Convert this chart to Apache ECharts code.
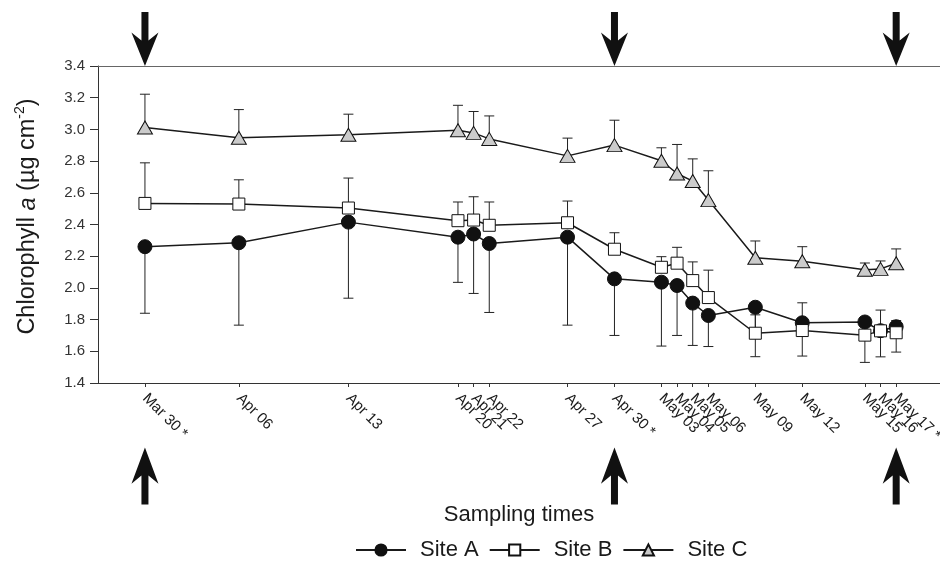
<!DOCTYPE html>
<html><head><meta charset="utf-8">
<script src="https://cdn.jsdelivr.net/npm/echarts@6/dist/echarts.min.js"></script>
<style>html,body{margin:0;padding:0;background:#fff}#c{width:940px;height:561px}</style>
</head><body><div id="c"></div>
<script>
// Sampling times: day offset from Mar 30 (as placed on the original axis) and labels
const sampleDays = [0, 6, 13, 20, 21, 22, 27, 30, 33, 34, 35, 36, 39, 42, 46, 47, 48];
const sampleLabels = ['Mar 30 *', 'Apr 06', 'Apr 13', 'Apr 20', 'Apr 21', 'Apr 22', 'Apr 27', 'Apr 30 *',
  'May 03', 'May 04', 'May 05', 'May 06', 'May 09', 'May 12', 'May 15', 'May 16', 'May 17 *'];
// Chlorophyll a (µg cm-2)
const siteA = [2.26, 2.285, 2.415, 2.32, 2.34, 2.28, 2.32, 2.057, 2.036, 2.015, 1.904, 1.826, 1.878, 1.78, 1.785, 1.73, 1.755];
const errA  = [0.42, 0.52, 0.48, 0.285, 0.375, 0.435, 0.555, 0.357, 0.403, 0.315, 0.267, 0.196, 0.312, 0.21, 0.255, 0.165, 0.16];
const siteB = [2.533, 2.529, 2.504, 2.424, 2.428, 2.395, 2.411, 2.244, 2.13, 2.156, 2.046, 1.939, 1.714, 1.731, 1.702, 1.729, 1.717];
const errB  = [0.256, 0.153, 0.189, 0.118, 0.147, 0.147, 0.137, 0.104, 0.067, 0.10, 0.118, 0.173, 0.116, 0.175, 0.06, 0.131, 0.077];
const siteC = [3.012, 2.947, 2.966, 2.995, 2.978, 2.94, 2.833, 2.901, 2.802, 2.722, 2.674, 2.554, 2.19, 2.168, 2.115, 2.12, 2.156];
const errC  = [0.21, 0.178, 0.13, 0.157, 0.135, 0.145, 0.112, 0.157, 0.082, 0.183, 0.14, 0.185, 0.106, 0.092, 0.042, 0.05, 0.09];
// Arrow markers (days)
const topArrowDays = [0, 30, 48];
const bottomArrowDays = [0, 30, 48];
const yMin = 1.4, yMax = 3.4, yStep = 0.2;

const FONT = '"Liberation Sans", Arial, Helvetica, sans-serif';
const INK = '#1a1a1a';

function pairs(vals) { return sampleDays.map((d, i) => [d, vals[i]]); }
function errData(vals, errs, dir) {
  return sampleDays.map((d, i) => [d, vals[i], vals[i] + dir * errs[i]]);
}
const errAll = [].concat(errData(siteA, errA, -1), errData(siteB, errB, 1), errData(siteC, errC, 1));

// labels split over two axes so the library's min/max overlap rule drops none of them
const labelDaysMain = sampleDays.filter((d, i) => i !== sampleDays.length - 2);
const labelDaysExtra = [sampleDays[sampleDays.length - 2]];
const labelFmt = v => sampleLabels[sampleDays.indexOf(v)] || '';

const downArrow = 'path://M10 0 L17 0 L17 28 L27 20 L13.5 53 L0 20 L10 28 Z';
const upArrow = 'path://M13.5 0 L27 35 L17 27 L17 55 L10 55 L10 27 L0 35 Z';

const xLabelStyle = {rotate: -45, margin: 13, fontSize: 15, color: INK, fontFamily: FONT, formatter: labelFmt};

const chart = echarts.init(document.getElementById('c'), null, {renderer: 'canvas'});
chart.setOption({
  animation: false,
  backgroundColor: '#fff',
  textStyle: {fontFamily: FONT},
  grid: {left: 98, right: 0, top: 66, bottom: 178, containLabel: false, outerBoundsMode: 'none'},
  legend: {
    data: ['Site A', 'Site B', 'Site C'],
    left: 350, top: 534,
    itemWidth: 50, itemHeight: 14, itemGap: 10,
    textStyle: {fontSize: 22, color: INK, fontFamily: FONT, padding: [0, 0, 0, 9]}
  },
  xAxis: [{
    type: 'value', min: -3, max: 50.8,
    name: 'Sampling times', nameLocation: 'middle', nameGap: 121, nameMoveOverlap: false,
    nameTextStyle: {fontSize: 22, color: INK, fontFamily: FONT},
    axisLine: {show: true, onZero: false, lineStyle: {color: '#333', width: 1}},
    axisTick: {show: true, length: 4, customValues: sampleDays, lineStyle: {color: '#333'}},
    axisLabel: Object.assign({customValues: labelDaysMain, showMaxLabel: true, showMinLabel: true}, xLabelStyle),
    splitLine: {show: false}
  }, {
    type: 'value', position: 'top', min: -3, max: 50.8,
    axisLine: {show: true, onZero: false, lineStyle: {color: '#666', width: 1}},
    axisTick: {show: false}, axisLabel: {show: false}, splitLine: {show: false}
  }, {
    type: 'value', position: 'bottom', min: -3, max: 50.8,
    axisLine: {show: false, onZero: false},
    axisTick: {show: false},
    axisLabel: Object.assign({customValues: labelDaysExtra, showMaxLabel: true, showMinLabel: true}, xLabelStyle),
    splitLine: {show: false}
  }],
  yAxis: {
    type: 'value', min: yMin, max: yMax, interval: yStep,
    name: '{n|Chlorophyll }{i|a}{n| (µg cm}{s|-2}{n|)}',
    nameLocation: 'middle', nameGap: 58, nameRotate: 90, nameMoveOverlap: false,
    nameTextStyle: {
      fontSize: 23.5, color: INK, fontFamily: FONT, padding: [0, 0, 0, 16],
      rich: {
        n: {fontSize: 23.5, color: INK, fontFamily: FONT, verticalAlign: 'bottom', lineHeight: 27},
        i: {fontSize: 23.5, color: INK, fontFamily: FONT, fontStyle: 'italic', verticalAlign: 'bottom', lineHeight: 27},
        s: {fontSize: 14, color: INK, fontFamily: FONT, verticalAlign: 'top', lineHeight: 16}
      }
    },
    axisLine: {show: true, onZero: false, lineStyle: {color: '#333', width: 1}},
    axisTick: {show: true, length: 8, lineStyle: {color: '#333'}},
    axisLabel: {fontSize: 15, color: '#333', fontFamily: FONT, margin: 13, formatter: v => v.toFixed(1)},
    splitLine: {show: false}
  },
  series: [
    {
      type: 'custom', name: 'err', z: 1, silent: true,
      data: errAll,
      encode: {x: 0, y: [1, 2]},
      renderItem: function (params, api) {
        const p0 = api.coord([api.value(0), api.value(1)]);
        const p1 = api.coord([api.value(0), api.value(2)]);
        const st = {stroke: '#222', lineWidth: 1, fill: null};
        return {type: 'group', children: [
          {type: 'line', shape: {x1: p0[0], y1: p0[1], x2: p1[0], y2: p1[1]}, style: st},
          {type: 'line', shape: {x1: p1[0] - 5, y1: p1[1], x2: p1[0] + 5, y2: p1[1]}, style: st}
        ]};
      }
    },
    {
      type: 'line', name: 'Site A', z: 2, data: pairs(siteA),
      symbol: 'circle', symbolSize: 14, showAllSymbol: true,
      lineStyle: {color: INK, width: 1.5},
      itemStyle: {color: '#111', borderColor: '#111', borderWidth: 1}
    },
    {
      type: 'line', name: 'Site B', z: 3, data: pairs(siteB),
      symbol: 'rect', symbolSize: 12, showAllSymbol: true,
      lineStyle: {color: INK, width: 1.5},
      itemStyle: {color: '#fff', borderColor: '#111', borderWidth: 1}
    },
    {
      type: 'line', name: 'Site C', z: 4, data: pairs(siteC),
      symbol: 'triangle', symbolSize: [15, 13], showAllSymbol: true,
      lineStyle: {color: INK, width: 1.5},
      itemStyle: {color: '#cbcbcb', borderColor: '#111', borderWidth: 1}
    },
    {
      type: 'scatter', name: 'arrows', z: 5, data: [], silent: true,
      markPoint: {
        silent: true, label: {show: false},
        itemStyle: {color: '#111'},
        data: topArrowDays.map(d => ({coord: [d, yMax], symbol: downArrow, symbolSize: [27, 54], symbolOffset: [0, -27]}))
          .concat(bottomArrowDays.map(d => ({coord: [d, yMin], symbol: upArrow, symbolSize: [27, 57], symbolOffset: [0, 93]})))
      }
    }
  ]
});
</script>
</body></html>
